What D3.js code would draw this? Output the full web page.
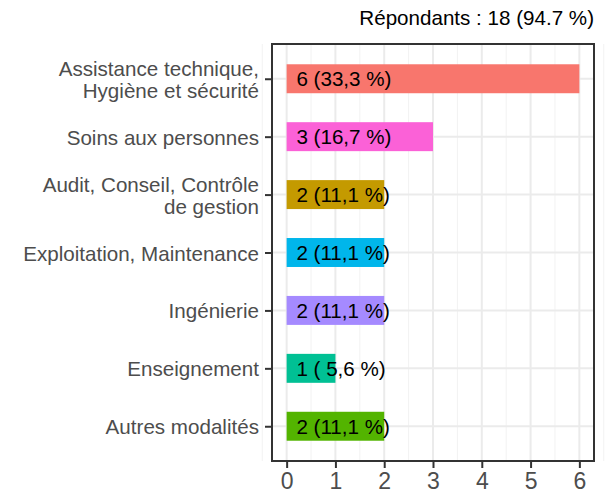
<!DOCTYPE html>
<html>
<head>
<meta charset="utf-8">
<script src="https://cdn.jsdelivr.net/npm/d3@7"></script>
<style>
  body { margin: 0; background: #fff; }
  text { font-family: "Liberation Sans", Arial, sans-serif; }
</style>
</head>
<body>
<svg width="614" height="492"></svg>
<script>
// categories, top to bottom
var categories = [
  ['Assistance technique,', 'Hygiène et sécurité'],
  ['Soins aux personnes'],
  ['Audit, Conseil, Contrôle', 'de gestion'],
  ['Exploitation, Maintenance'],
  ['Ingénierie'],
  ['Enseignement'],
  ['Autres modalités']
];
var counts = [6, 3, 2, 2, 2, 1, 2];
var barColors = ['#F8766D', '#FB61D7', '#C49A00', '#00B6EB', '#A58AFF', '#00C094', '#53B400'];
var xTicks = [0, 1, 2, 3, 4, 5, 6];
var respondents = 18;
var title = 'Répondants : 18 (94.7 %)';

var svg = d3.select('svg');
var pLeft = 272, pRight = 594, pTop = 44, pBottom = 461;
var fs = 20.6;

var x = d3.scaleLinear().domain([-0.3, 6.3]).range([pLeft, pRight]);
var y = d3.scalePoint().domain(d3.range(categories.length)).range([pTop, pBottom]).padding(0.6);
var barH = y.step() * 0.5;

// grid: minor then major
var minor = d3.range(-0.5, 6.6, 1);
svg.append('g').selectAll('line').data(minor).enter().append('line')
  .attr('x1', d => x(d)).attr('x2', d => x(d))
  .attr('y1', pTop).attr('y2', pBottom)
  .attr('stroke', '#f2f2f2').attr('stroke-width', 1);
svg.append('g').selectAll('line').data(xTicks).enter().append('line')
  .attr('x1', d => x(d)).attr('x2', d => x(d))
  .attr('y1', pTop).attr('y2', pBottom)
  .attr('stroke', '#ebebeb').attr('stroke-width', 2);
svg.append('g').selectAll('line').data(y.domain()).enter().append('line')
  .attr('x1', pLeft).attr('x2', pRight)
  .attr('y1', d => y(d)).attr('y2', d => y(d))
  .attr('stroke', '#ebebeb').attr('stroke-width', 2);

// bars
svg.append('g').selectAll('rect').data(counts).enter().append('rect')
  .attr('x', x(0))
  .attr('y', (d, i) => y(i) - barH / 2)
  .attr('width', d => x(d) - x(0))
  .attr('height', barH)
  .attr('fill', (d, i) => barColors[i]);

// bar labels: "n (pp,p %)"
function fmt(d) {
  var p = (d / respondents * 100).toFixed(1).replace('.', ',');
  return d + ' (' + p.padStart(4, ' ') + ' %)';
}
svg.append('g').selectAll('text').data(counts).enter().append('text')
  .attr('x', x(0.2))
  .attr('y', (d, i) => y(i))
  .attr('dy', '0.36em')
  .attr('font-size', fs)
  .attr('fill', '#000')
  .style('white-space', 'pre')
  .text(fmt);

// panel border
svg.append('rect')
  .attr('x', pLeft).attr('y', pTop)
  .attr('width', pRight - pLeft).attr('height', pBottom - pTop)
  .attr('fill', 'none').attr('stroke', '#333').attr('stroke-width', 2);

// y axis, labels can span two lines
var yAxis = svg.append('g')
  .attr('transform', 'translate(' + pLeft + ',0)')
  .call(d3.axisLeft(y).tickSize(7).tickPadding(6).tickFormat(''));
yAxis.select('.domain').remove();
yAxis.selectAll('.tick line').attr('stroke', '#333').attr('stroke-width', 2);
yAxis.selectAll('.tick text').each(function(d) {
  var lines = categories[d];
  var t = d3.select(this).attr('font-size', fs).attr('fill', '#4d4d4d')
    .attr('font-family', '"Liberation Sans", Arial, sans-serif').attr('dy', null);
  var lh = 22;
  var y0 = -(lines.length - 1) * lh / 2 + 7.5;
  lines.forEach(function(l, j) {
    t.append('tspan').attr('x', -13).attr('y', y0 + j * lh).text(l);
  });
});

// x axis
var xAxis = svg.append('g')
  .attr('transform', 'translate(0,' + pBottom + ')')
  .call(d3.axisBottom(x).tickValues(xTicks).tickFormat(d3.format('d')).tickSize(7).tickPadding(5));
xAxis.select('.domain').remove();
xAxis.selectAll('.tick line').attr('stroke', '#333').attr('stroke-width', 2);
xAxis.selectAll('.tick text').attr('font-size', 23).attr('fill', '#4d4d4d')
  .attr('font-family', '"Liberation Sans", Arial, sans-serif');

// title
svg.append('text')
  .attr('x', pRight).attr('y', 25)
  .attr('text-anchor', 'end')
  .attr('font-size', fs)
  .attr('fill', '#000')
  .text(title);
</script>
</body>
</html>
